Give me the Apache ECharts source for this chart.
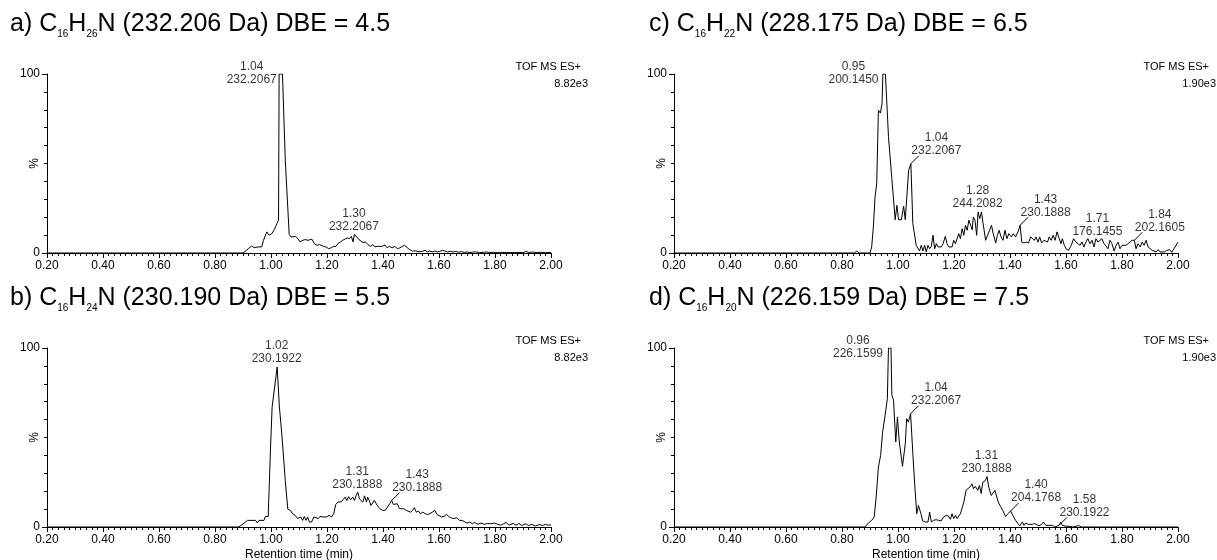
<!DOCTYPE html>
<html>
<head>
<meta charset="utf-8">
<script src="https://cdn.jsdelivr.net/npm/echarts@6/dist/echarts.min.js"></script>
<style>
  html, body { margin: 0; padding: 0; background: #fff; }
  #chart { width: 1217px; height: 560px; }
</style>
</head>
<body>
<div id="chart"></div>
<script>
var FONT = '"Liberation Sans", Arial, sans-serif';

// retention time (min), intensity (%)
var traceA = [[0.2,0],[0.90,0],[0.907,1.1],[0.919,2.4],[0.931,3.9],[0.94,3.0],[0.947,3.7],[0.955,3.4],[0.967,3.4],[0.973,7.0],[0.985,11.8],[0.993,9.9],[1.003,10.8],[1.012,13.1],[1.021,16.4],[1.027,18.3],[1.029,100],[1.041,100],[1.051,51.8],[1.065,10.4],[1.072,8.9],[1.078,9.9],[1.087,9.3],[1.096,8.0],[1.104,6.2],[1.114,7.1],[1.122,7.5],[1.132,7.1],[1.137,6.2],[1.146,7.7],[1.155,5.2],[1.164,4.3],[1.173,4.7],[1.18,4.3],[1.188,3.7],[1.196,3.4],[1.206,2.4],[1.216,3.0],[1.224,3.7],[1.232,3.7],[1.239,5.2],[1.248,6.2],[1.256,7.1],[1.263,7.5],[1.272,8.4],[1.28,8.0],[1.287,9.3],[1.293,6.2],[1.298,10.4],[1.305,9.3],[1.314,7.5],[1.321,7.7],[1.329,5.8],[1.337,6.2],[1.346,4.7],[1.355,3.7],[1.364,4.7],[1.371,3.4],[1.379,3.7],[1.388,3.7],[1.397,3.7],[1.407,4.5],[1.415,2.9],[1.423,3.7],[1.433,2.9],[1.443,3.7],[1.451,2.4],[1.459,2.8],[1.469,3.7],[1.477,4.3],[1.487,2.9],[1.495,1.9],[1.505,1.1],[1.517,1.1],[1.529,0.7],[1.541,0.9],[1.55,1.5],[1.559,0.6],[1.567,1.1],[1.576,0.7],[1.586,1.1],[1.594,0.6],[1.603,0.9],[1.612,1.5],[1.621,1.1],[1.63,0.6],[1.64,1.0],[1.65,0.5],[1.66,0.9],[1.67,0.4],[1.68,0.8],[1.69,0.3],[1.70,0.6],[1.71,0.2],[1.72,0.5],[1.73,0.7],[1.745,0.2],[1.76,0.4],[1.77,0.6],[1.78,0.2],[1.795,0.4],[1.81,0.2],[1.825,0.4],[1.84,0.2],[1.855,0.3],[1.87,0.2],[1.885,0.3],[1.90,0.2],[1.91,0.9],[1.92,0.3],[1.935,0.5],[1.95,0.2],[1.965,0.4],[1.98,0.2],[2.0,0.3]];

var traceB = [[0.2,0],[0.885,0],[0.892,0.9],[0.904,2.2],[0.916,3.7],[0.922,4.1],[0.945,3.7],[0.951,2.2],[0.957,3.7],[0.963,2.6],[0.975,3.7],[0.98,5.9],[0.99,5.9],[0.998,42.9],[1.004,67],[1.022,89.4],[1.03,67],[1.039,51.3],[1.051,25.9],[1.06,10],[1.069,9.3],[1.077,7.4],[1.086,6.5],[1.095,4.7],[1.102,3.7],[1.106,5.6],[1.113,3.7],[1.119,5.9],[1.125,3.7],[1.131,5.6],[1.137,2.8],[1.145,2.8],[1.153,5.6],[1.16,4.7],[1.169,4.7],[1.175,5.9],[1.181,5.6],[1.186,5.6],[1.192,5.9],[1.198,5.6],[1.208,6.5],[1.216,5.6],[1.224,7.4],[1.231,12.5],[1.239,14],[1.245,14.8],[1.251,14],[1.257,15.2],[1.265,16.7],[1.271,14.8],[1.277,17],[1.284,15.2],[1.292,16.7],[1.298,14.8],[1.304,17.6],[1.31,19.4],[1.316,15.7],[1.322,16.7],[1.328,13.9],[1.334,17.4],[1.341,13.9],[1.345,16.7],[1.351,14.8],[1.357,12],[1.363,12.6],[1.369,14.8],[1.375,13.9],[1.381,11.7],[1.389,10.2],[1.398,9.3],[1.408,9.3],[1.416,11.1],[1.424,13],[1.431,14.8],[1.437,12.6],[1.443,12],[1.451,13],[1.459,10.2],[1.466,11.1],[1.474,10.2],[1.483,9.3],[1.49,10.2],[1.498,8.3],[1.506,9.3],[1.512,10.8],[1.519,8.3],[1.527,8.9],[1.533,7.4],[1.542,8.3],[1.551,7.4],[1.559,7.0],[1.567,7.4],[1.576,8.3],[1.585,9.3],[1.593,7.0],[1.6,6.5],[1.609,5.6],[1.618,5.9],[1.627,7.0],[1.637,5.6],[1.645,5.0],[1.654,4.7],[1.663,5.2],[1.673,3.7],[1.683,3.7],[1.692,2.8],[1.7,2.2],[1.71,2.8],[1.719,1.8],[1.727,2.6],[1.739,1.5],[1.75,2.2],[1.762,1.5],[1.774,2.0],[1.786,1.8],[1.798,2.2],[1.81,1.5],[1.82,1.0],[1.83,1.8],[1.84,2.5],[1.85,1.0],[1.865,2.0],[1.875,1.0],[1.885,2.0],[1.895,0.8],[1.91,1.8],[1.92,0.8],[1.93,1.5],[1.945,0.6],[1.96,1.4],[1.97,0.8],[1.98,1.5],[1.99,1.0],[2.0,1.2]];

var traceC = [[0.2,0],[0.844,0],[0.853,1.1],[0.861,0],[0.90,0],[0.906,3.4],[0.912,14.6],[0.918,31.3],[0.924,38.7],[0.93,79.7],[0.937,78.2],[0.943,83.4],[0.946,100],[0.955,100],[0.966,65],[0.978,41.5],[0.99,18.6],[0.996,26.6],[1.002,18.6],[1.012,18.6],[1.02,26.1],[1.026,18.6],[1.038,46.2],[1.046,49.9],[1.053,16.4],[1.059,15.5],[1.065,4.3],[1.071,4.3],[1.077,1.1],[1.083,4.3],[1.089,1.1],[1.095,4.3],[1.101,0.6],[1.107,4.3],[1.113,2.4],[1.119,3.7],[1.125,9.9],[1.131,2.4],[1.137,5.2],[1.143,3.4],[1.149,4.3],[1.155,3.4],[1.161,5.2],[1.169,9.3],[1.175,5.2],[1.181,3.4],[1.187,4.3],[1.193,3.4],[1.199,7.1],[1.205,5.2],[1.211,6.1],[1.217,10.8],[1.223,8.0],[1.229,13.6],[1.235,9.9],[1.241,15.5],[1.247,12.7],[1.253,18.3],[1.259,17.3],[1.265,13.0],[1.269,20.1],[1.275,18.3],[1.281,9.9],[1.286,22.9],[1.292,19.2],[1.298,22.9],[1.304,16.4],[1.313,7.1],[1.32,9.9],[1.327,12.7],[1.334,15.5],[1.34,10.8],[1.349,5.6],[1.355,9.9],[1.361,12.7],[1.368,9.0],[1.375,7.1],[1.382,12.7],[1.389,8.0],[1.396,10.8],[1.405,9.0],[1.412,10.8],[1.42,9.0],[1.43,12.3],[1.436,15.5],[1.442,6.1],[1.45,5.6],[1.458,6.1],[1.466,5.6],[1.474,9.0],[1.48,8.0],[1.487,7.1],[1.493,9.0],[1.5,6.1],[1.506,9.0],[1.513,5.6],[1.521,7.1],[1.528,8.0],[1.534,6.1],[1.54,9.0],[1.547,7.1],[1.554,9.9],[1.561,7.1],[1.568,11.8],[1.576,8.0],[1.582,5.2],[1.587,8.0],[1.594,4.3],[1.6,2.4],[1.609,1.5],[1.619,4.3],[1.627,8.0],[1.635,6.1],[1.642,6.1],[1.65,4.3],[1.657,6.1],[1.664,3.4],[1.671,6.1],[1.678,8.0],[1.686,5.2],[1.693,7.1],[1.70,3.4],[1.707,8.0],[1.714,6.1],[1.721,7.1],[1.728,8.0],[1.736,5.2],[1.743,6.1],[1.75,2.4],[1.757,7.1],[1.764,5.2],[1.772,1.1],[1.779,4.3],[1.786,6.1],[1.793,2.4],[1.80,4.3],[1.807,3.4],[1.814,4.3],[1.822,5.2],[1.829,6.1],[1.836,7.1],[1.844,7.1],[1.85,2.4],[1.857,5.2],[1.865,3.4],[1.872,6.1],[1.879,4.3],[1.886,7.1],[1.893,3.4],[1.90,3.7],[1.908,1.5],[1.915,2.4],[1.922,0.6],[1.929,1.9],[1.936,0.6],[1.943,1.1],[1.952,0.6],[1.96,1.5],[1.97,1.9],[1.978,0.4],[1.985,1.5],[2.0,6.1]];

var traceD = [[0.2,0],[0.882,0],[0.894,2.2],[0.906,3.7],[0.915,5.6],[0.922,16.7],[0.93,33.5],[0.938,40],[0.945,53],[0.954,62.4],[0.962,71.7],[0.966,100],[0.975,100],[0.978,73.6],[0.984,70.8],[0.992,47.5],[0.998,61.5],[1.004,48.6],[1.016,33.9],[1.026,46.5],[1.031,60.5],[1.037,58.6],[1.045,63.3],[1.053,41],[1.061,20.5],[1.067,7.4],[1.073,12],[1.082,7.4],[1.088,3.4],[1.097,2.8],[1.107,2.8],[1.113,8.3],[1.119,2.8],[1.127,3.7],[1.136,4.1],[1.145,3.7],[1.154,3.4],[1.163,5.6],[1.172,6.5],[1.18,6.1],[1.187,4.3],[1.193,7.4],[1.199,4.7],[1.205,6.5],[1.211,4.7],[1.217,6.1],[1.223,7.4],[1.226,6.5],[1.235,13.9],[1.243,20.5],[1.25,20.1],[1.258,22.5],[1.264,24.1],[1.27,21.4],[1.276,22.7],[1.285,20.5],[1.291,23.2],[1.297,18.7],[1.303,25],[1.312,25.9],[1.318,28.2],[1.324,22.3],[1.333,17.6],[1.339,16.7],[1.346,20.5],[1.352,21.4],[1.358,13.9],[1.366,11.5],[1.374,9.3],[1.384,5.9],[1.392,7.4],[1.402,8.9],[1.41,6.5],[1.42,3.7],[1.428,1.9],[1.435,0.7],[1.444,2.8],[1.45,0.9],[1.456,2.2],[1.464,1.5],[1.471,2.6],[1.48,1.5],[1.488,1.9],[1.495,0.9],[1.503,0.7],[1.512,1.3],[1.519,2.8],[1.528,0.9],[1.536,0.9],[1.543,1.9],[1.552,0.9],[1.56,0],[1.567,0.9],[1.575,0.9],[1.581,2.8],[1.587,0.9],[1.593,1.9],[1.6,0.4],[1.611,0.4],[1.625,0],[1.636,0.4],[1.645,0.9],[1.655,0],[1.70,0],[1.707,0.6],[1.715,0],[1.76,0],[1.766,0.9],[1.775,0],[2.0,0]];

// peak annotations: time, intensity, retention time label, mass
var peaksA = [[1.04,100,'1.04','232.2067'],[1.298,10.4,'1.30','232.2067']];
var peaksB = [[1.022,89.4,'1.02','230.1922'],[1.31,19.4,'1.31','230.1888'],[1.431,14.8,'1.43','230.1888']];
var peaksC = [[0.95,100,'0.95','200.1450'],[1.046,49.9,'1.04','232.2067'],[1.286,22.9,'1.28','244.2082'],[1.436,15.5,'1.43','230.1888'],[1.714,7.5,'1.71','176.1455'],[1.844,7.1,'1.84','202.1605']];
var peaksD = [[0.966,100,'0.96','226.1599'],[1.045,63.3,'1.04','232.2067'],[1.318,28.2,'1.31','230.1888'],[1.402,8.9,'1.40','204.1768'],[1.575,0.9,'1.58','230.1922']];
// where each label sits relative to its peak
var placeA = ['left','top'];
var placeB = ['top','top','leader'];
var placeC = ['left','leader','top','leader','top','leader'];
var placeD = ['left','leader','top','leader','leader'];

var titles = [
    ['a)', '16', '26', '232.206', '4.5'],
    ['b)', '16', '24', '230.190', '5.5'],
    ['c)', '16', '22', '228.175', '6.5'],
    ['d)', '16', '20', '226.159', '7.5']
];
var scales = ['8.82e3', '8.82e3', '1.90e3', '1.90e3'];

var grids = [
    {left: 47, top: 74, width: 504, height: 179, outerBoundsMode: 'none', containLabel: false},
    {left: 47, top: 348, width: 504, height: 179, outerBoundsMode: 'none', containLabel: false},
    {left: 674, top: 74, width: 504, height: 179, outerBoundsMode: 'none', containLabel: false},
    {left: 674, top: 348, width: 504, height: 179, outerBoundsMode: 'none', containLabel: false}
];

var chart = echarts.init(document.getElementById('chart'));

function titleText(t) {
    return '{n|' + t[0] + ' C}{s|' + t[1] + '}{n|H}{s|' + t[2] + '}{n|N (' + t[3] + ' Da) DBE = ' + t[4] + '}';
}

function annotationSeries(i, peaks, place) {
    var offsets = {left: [-30, 0], top: [0, -14], leader: [26, -19]};
    var data = [];
    var leaders = [];
    for (var k = 0; k < peaks.length; k++) {
        var p = peaks[k];
        data.push({
            value: [p[0], p[1]],
            label: {formatter: p[2] + '\n' + p[3], position: offsets[place[k]]}
        });
        if (place[k] === 'leader') {
            leaders.push([{coord: [p[0], p[1]]}, {coord: [p[0] + 8 / 280, p[1] + 8 / 1.79]}]);
        }
    }
    return {
        type: 'scatter',
        xAxisIndex: i,
        yAxisIndex: i,
        symbolSize: 1,
        itemStyle: {color: 'rgba(0,0,0,0)'},
        silent: true,
        animation: false,
        label: {
            show: true,
            align: 'center',
            verticalAlign: 'middle',
            fontSize: 12,
            lineHeight: 13,
            fontFamily: FONT,
            color: '#000'
        },
        data: data,
        markLine: {
            silent: true,
            animation: false,
            symbol: ['none', 'none'],
            label: {show: false},
            lineStyle: {color: '#000', width: 1, type: 'solid'},
            data: leaders
        }
    };
}

var traces = [traceA, traceB, traceC, traceD];
var peaks = [peaksA, peaksB, peaksC, peaksD];
var places = [placeA, placeB, placeC, placeD];

var titleList = [];
var xAxes = [];
var yAxes = [];
var series = [];

for (var i = 0; i < 4; i++) {
    var g = grids[i];
    var rightEdge = (i < 2) ? 581 : 1209;
    var scaleEdge = (i < 2) ? 588 : 1216;

    titleList.push({
        text: titleText(titles[i]),
        left: g.left - (i < 2 ? 37 : 25),
        top: g.top - 65,
        padding: 0,
        textStyle: {
            fontWeight: 'normal',
            rich: {
                n: {fontSize: 25, fontWeight: 'normal', fontFamily: FONT, color: '#000', lineHeight: 30},
                s: {fontSize: 10, fontWeight: 'normal', fontFamily: FONT, color: '#000', lineHeight: 6, verticalAlign: 'bottom'}
            }
        }
    });
    titleList.push({
        text: 'TOF MS ES+',
        right: 1217 - rightEdge,
        top: g.top - 13,
        padding: 0,
        textStyle: {fontSize: 11, fontWeight: 'normal', fontFamily: FONT, color: '#000', lineHeight: 12}
    });
    titleList.push({
        text: scales[i],
        right: 1217 - scaleEdge,
        top: g.top + 4,
        padding: 0,
        textStyle: {fontSize: 11, fontWeight: 'normal', fontFamily: FONT, color: '#000', lineHeight: 12}
    });

    xAxes.push({
        gridIndex: i,
        type: 'value',
        min: 0.2,
        max: 2.0,
        interval: 0.2,
        name: (i % 2 === 1) ? 'Retention time (min)' : '',
        nameLocation: 'middle',
        nameGap: 22,
        nameMoveOverlap: false,
        nameTextStyle: {fontSize: 12, fontFamily: FONT, color: '#000'},
        axisLine: {show: true, onZero: false, lineStyle: {color: '#000', width: 1}},
        axisTick: {show: true, length: 5, lineStyle: {color: '#000'}},
        minorTick: {show: true, splitNumber: 10, length: 3, lineStyle: {color: '#000'}},
        splitLine: {show: false},
        minorSplitLine: {show: false},
        axisLabel: {
            fontSize: 12,
            fontFamily: FONT,
            color: '#000',
            margin: 7,
            showMinLabel: true,
            showMaxLabel: true,
            formatter: function (v) { return v.toFixed(2); }
        }
    });
    yAxes.push({
        gridIndex: i,
        type: 'value',
        min: 0,
        max: 100,
        interval: 100,
        name: '%',
        nameLocation: 'middle',
        nameRotate: 90,
        nameGap: 6,
        nameMoveOverlap: false,
        nameTextStyle: {fontSize: 12, fontFamily: FONT, color: '#000'},
        axisLine: {show: true, lineStyle: {color: '#000', width: 1}},
        axisTick: {show: true, length: 5, lineStyle: {color: '#000'}},
        minorTick: {show: true, splitNumber: 10, length: 3, lineStyle: {color: '#000'}},
        splitLine: {show: false},
        axisLabel: {fontSize: 12, fontFamily: FONT, color: '#000', margin: 7}
    });

    series.push({
        type: 'line',
        xAxisIndex: i,
        yAxisIndex: i,
        data: traces[i],
        symbol: 'none',
        showSymbol: false,
        silent: true,
        animation: false,
        lineStyle: {color: '#000', width: 1}
    });
    series.push(annotationSeries(i, peaks[i], places[i]));
}

var option = {
    backgroundColor: '#fff',
    animation: false,
    title: titleList,
    grid: grids,
    xAxis: xAxes,
    yAxis: yAxes,
    series: series
};
chart.setOption(option);
</script>
</body>
</html>
